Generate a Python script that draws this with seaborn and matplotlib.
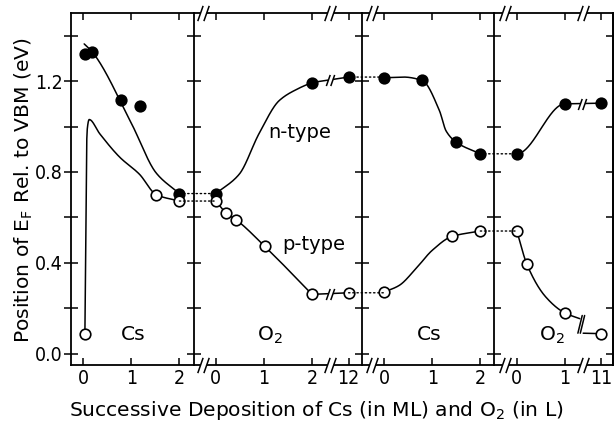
import numpy as np
import matplotlib
matplotlib.use("Agg")
import matplotlib.pyplot as plt
import seaborn as sns
from matplotlib.path import Path
from matplotlib.patches import ConnectionPatch
from matplotlib import font_manager

# ---------------- data ----------------
# panel 1 : Cs deposition (ML)
cs1_n_x = [0.035, 0.19, 0.79, 1.19, 2.0]
cs1_n_y = [1.320, 1.328, 1.118, 1.090, 0.705]
cs1_p_x = [0.035, 1.52, 2.0]
cs1_p_y = [0.088, 0.700, 0.672]
cs1_n_guide_x = [0.02, 0.19, 1.0, 1.52, 2.0]
cs1_n_guide_y = [1.364, 1.328, 1.015, 0.795, 0.705]
cs1_p_guide_x = [0.035, 0.08, 0.124, 0.345, 0.76, 1.17, 1.52, 2.0]
cs1_p_guide_y = [0.088, 0.98, 1.031, 0.968, 0.865, 0.79, 0.700, 0.672]

# panel 2 : O2 exposure (L)
o2a_n_dose = [0, 2, 12]
o2a_n_y = [0.705, 1.194, 1.218]
o2a_p_dose = [0, 0.21, 0.42, 1.02, 2, 12]
o2a_p_y = [0.672, 0.620, 0.590, 0.472, 0.261, 0.268]
o2a_n_guide_x = [0, 0.485, 0.9, 1.32, 1.74, 2.0]
o2a_n_guide_y = [0.705, 0.79, 0.97, 1.115, 1.17, 1.194]

# panel 3 : Cs deposition (ML)
cs2_n_x = [0, 0.79, 1.5, 2.0]
cs2_n_y = [1.215, 1.203, 0.931, 0.880]
cs2_p_x = [0, 1.41, 2.0]
cs2_p_y = [0.271, 0.516, 0.540]
cs2_n_guide_x = [0, 0.4, 0.79, 1.15, 1.29, 1.5, 2.0]
cs2_n_guide_y = [1.215, 1.218, 1.203, 1.07, 0.98, 0.931, 0.880]
cs2_p_guide_x = [0, 0.31, 0.66, 1.0, 1.41, 2.0]
cs2_p_guide_y = [0.271, 0.30, 0.374, 0.455, 0.516, 0.540]

# panel 4 : O2 exposure (L)
o2b_n_dose = [0, 1, 11]
o2b_n_y = [0.880, 1.100, 1.103]
o2b_p_dose = [0, 0.21, 1, 11]
o2b_p_y = [0.540, 0.393, 0.179, 0.088]
o2b_p_guide_x = [0, 0.21, 0.6, 1.0, 1.31]
o2b_p_guide_y = [0.540, 0.393, 0.25, 0.179, 0.154]

y_ticks = [0.0, 0.2, 0.4, 0.6, 0.8, 1.0, 1.2, 1.4]
y_ticklabels = ["0.0", "", "0.4", "", "0.8", "", "1.2", ""]

# ---------------- helpers ----------------
def brk(d, lo, hi, pos):
    d = np.asarray(d, float)
    return np.where(d <= lo, d, pos + (d - hi))

def pchip(xk, yk, n=200, d0=None, d1=None):
    xk = np.asarray(xk, float); yk = np.asarray(yk, float)
    h = np.diff(xk); dl = np.diff(yk) / h
    m = np.empty_like(yk)
    if len(xk) == 2:
        m[:] = dl[0]
    else:
        m[0] = dl[0]; m[-1] = dl[-1]
        for k in range(1, len(xk) - 1):
            if dl[k - 1] * dl[k] <= 0:
                m[k] = 0
            else:
                w1 = 2 * h[k] + h[k - 1]; w2 = h[k] + 2 * h[k - 1]
                m[k] = (w1 + w2) / (w1 / dl[k - 1] + w2 / dl[k])
    if d0 is not None: m[0] = d0
    if d1 is not None: m[-1] = d1
    xs = np.linspace(xk[0], xk[-1], n)
    i = np.clip(np.searchsorted(xk, xs, side="right") - 1, 0, len(xk) - 2)
    t = (xs - xk[i]) / h[i]
    ys = ((2*t**3 - 3*t**2 + 1) * yk[i] + (t**3 - 2*t**2 + t) * h[i] * m[i]
          + (-2*t**3 + 3*t**2) * yk[i + 1] + (t**3 - t**2) * h[i] * m[i + 1])
    return xs, ys

SLASH = Path([(-0.75, -1), (-0.05, 1), (0.05, -1), (0.75, 1)],
             [Path.MOVETO, Path.LINETO, Path.MOVETO, Path.LINETO])
GAP = Path([(-0.75, -1), (0.05, -1), (0.75, 1), (-0.05, 1), (-0.75, -1)],
           [Path.MOVETO, Path.LINETO, Path.LINETO, Path.LINETO, Path.CLOSEPOLY])

def break_mark(ax, x, y, transform=None, ms=11):
    tr = transform if transform is not None else ax.transData
    ax.plot([x], [y], marker=GAP, ms=ms, mfc="white", mec="white", mew=0,
            ls="none", transform=tr, clip_on=False, zorder=6)
    ax.plot([x], [y], marker=SLASH, ms=ms, mfc="none", mec="black", mew=1.1,
            ls="none", transform=tr, clip_on=False, zorder=7)

def axis_breaks(ax, x):
    tr = ax.get_xaxis_transform()
    for yy in (0, 1):
        break_mark(ax, x, yy, transform=tr, ms=11)

LW = 1.1
def curve(ax, x, y):
    sns.lineplot(x=np.asarray(x), y=np.asarray(y), ax=ax, color="black", lw=LW,
                 sort=False, estimator=None, zorder=3)

def pts(ax, x, y, filled):
    sns.scatterplot(x=np.asarray(x, float), y=np.asarray(y, float), ax=ax, s=58,
                    marker="o", facecolor="black" if filled else "white",
                    edgecolor="black", linewidth=1.2, zorder=5, clip_on=False)

# ---------------- figure ----------------
sns.set_theme(style="ticks")
plt.rcParams.update({
    "font.family": ["DejaVu Sans"],
    "mathtext.default": "regular",
    "axes.linewidth": 1.3,
    "axes.edgecolor": "black",
    "xtick.color": "black", "ytick.color": "black",
    "text.color": "black",
})
_names = {f.name for f in font_manager.fontManager.ttflist}
if "Liberation Sans Narrow" in _names:
    NUM_FONT = dict(fontfamily=["Liberation Sans Narrow", "DejaVu Sans"])
else:
    NUM_FONT = dict(fontfamily=["DejaVu Sans"], fontstretch="condensed")

xlims = [(-0.26, 2.31), (-0.45, 3.04), (-0.46, 2.29), (-0.47, 2.0)]
spans = [b - a for a, b in xlims]
fig = plt.figure(figsize=(6.16, 4.34), dpi=100)
gs = fig.add_gridspec(1, 4, width_ratios=spans, left=0.1148, right=0.9951,
                      top=0.970, bottom=0.159, wspace=0)
axes = [fig.add_subplot(gs[0, i]) for i in range(4)]

FS = 14
TFS = 14.6
for i, ax in enumerate(axes):
    ax.set_xlim(*xlims[i]); ax.set_ylim(-0.05, 1.5)
    ax.set_yticks(y_ticks)
    ax.set_yticklabels(y_ticklabels if i == 0 else [""] * len(y_ticks))
    ax.tick_params(axis="y", direction="inout", length=10, width=1.1,
                   left=True, right=False, labelsize=FS, pad=1)
    ax.tick_params(axis="x", direction="in", length=5, width=1.1,
                   top=True, bottom=True, labelsize=FS, pad=3)
    if i < 3:
        ax.spines["right"].set_visible(False)
    ax.set_xlabel(""); ax.set_ylabel("")

tick_sets = [([0, 1, 2], ["0", "1", "2"]),
             (list(brk([0, 1, 2, 12], 2, 12, 2.76)), ["0", "1", "2", "12"]),
             ([0, 1, 2], ["0", "1", "2"]),
             (list(brk([0, 1, 11], 1, 11, 1.75)), ["0", "1", "11"])]
for ax, (tv, tl) in zip(axes, tick_sets):
    ax.set_xticks(tv); ax.set_xticklabels(tl)
    plt.setp(ax.get_xticklabels() + ax.get_yticklabels(), **NUM_FONT)

sec = axes[3].secondary_yaxis("right")
sec.set_yticks(y_ticks); sec.set_yticklabels([""] * len(y_ticks))
sec.tick_params(direction="in", length=5, width=1.1)

ax1, ax2, ax3, ax4 = axes

# panel 1
curve(ax1, *pchip(cs1_n_guide_x, cs1_n_guide_y))
curve(ax1, *pchip(cs1_p_guide_x, cs1_p_guide_y))
pts(ax1, cs1_n_x, cs1_n_y, True)
pts(ax1, cs1_p_x, cs1_p_y, False)

# panel 2
a_n_x = brk(o2a_n_dose, 2, 12, 2.76)
a_p_x = brk(o2a_p_dose, 2, 12, 2.76)
curve(ax2, *pchip(o2a_n_guide_x, o2a_n_guide_y))
curve(ax2, a_n_x[-2:], o2a_n_y[-2:])
curve(ax2, *pchip(a_p_x[:-1], o2a_p_y[:-1]))
curve(ax2, a_p_x[-2:], o2a_p_y[-2:])
break_mark(ax2, 2.375, np.mean(o2a_n_y[-2:]), ms=8)
break_mark(ax2, 2.375, np.mean(o2a_p_y[-2:]), ms=8)
pts(ax2, a_n_x, o2a_n_y, True)
pts(ax2, a_p_x, o2a_p_y, False)

# panel 3
curve(ax3, *pchip(cs2_n_guide_x, cs2_n_guide_y))
curve(ax3, *pchip(cs2_p_guide_x, cs2_p_guide_y))
pts(ax3, cs2_n_x, cs2_n_y, True)
pts(ax3, cs2_p_x, cs2_p_y, False)

# panel 4
b_n_x = brk(o2b_n_dose, 1, 11, 1.75)
b_p_x = brk(o2b_p_dose, 1, 11, 1.75)
curve(ax4, *pchip(b_n_x[:2], o2b_n_y[:2], d0=0, d1=0))
curve(ax4, b_n_x[-2:], o2b_n_y[-2:])
break_mark(ax4, 1.35, np.mean(o2b_n_y[-2:]), ms=8)
curve(ax4, *pchip(o2b_p_guide_x, o2b_p_guide_y))
curve(ax4, [1.38, b_p_x[-1]], [0.090, o2b_p_y[-1]])
ax4.plot([1.27, 1.36], [0.09, 0.168], color="black", lw=LW, zorder=3)
ax4.plot([1.32, 1.41], [0.09, 0.168], color="black", lw=LW, zorder=3)
pts(ax4, b_n_x, o2b_n_y, True)
pts(ax4, b_p_x, o2b_p_y, False)

# dotted connectors between panels
pairs = [(ax1, 2.0, ax2, 0.0, cs1_n_y[-1]), (ax1, 2.0, ax2, 0.0, cs1_p_y[-1]),
         (ax2, a_n_x[-1], ax3, 0.0, o2a_n_y[-1]), (ax2, a_p_x[-1], ax3, 0.0, o2a_p_y[-1]),
         (ax3, 2.0, ax4, 0.0, cs2_n_y[-1]), (ax3, 2.0, ax4, 0.0, cs2_p_y[-1])]
for axA, xa, axB, xb, yv in pairs:
    cp = ConnectionPatch(xyA=(xa, yv), coordsA=axA.transData,
                         xyB=(xb, yv), coordsB=axB.transData,
                         linestyle=(0, (1, 2)), color="black", lw=1.0, zorder=2)
    fig.add_artist(cp)

# axis break marks
axis_breaks(ax2, -0.26); axis_breaks(ax2, 2.375)
axis_breaks(ax3, -0.25)
axis_breaks(ax4, -0.25); axis_breaks(ax4, 1.37)

# labels inside panels
ax1.text(1.035, 0.058, "Cs", fontsize=TFS, ha="center", va="baseline")
ax2.text(1.13, 0.058, "O$_2$", fontsize=TFS, ha="center", va="baseline")
ax3.text(0.94, 0.058, "Cs", fontsize=TFS, ha="center", va="baseline")
ax4.text(0.72, 0.058, "O$_2$", fontsize=TFS, ha="center", va="baseline")
ax2.text(1.75, 0.951, "n-type", fontsize=FS, ha="center", va="baseline")
ax2.text(2.03, 0.455, "p-type", fontsize=FS, ha="center", va="baseline")

fig.text(0.039, 0.563, "Position of E$_\\mathrm{F}$ Rel. to VBM (eV)", rotation=90,
         fontsize=TFS, ha="center", va="center")
fig.text(0.513, 0.055, "Successive Deposition of Cs (in ML) and O$_2$ (in L)",
         fontsize=TFS, ha="center", va="center")

fig.savefig("out.png", dpi=100, facecolor="white")
